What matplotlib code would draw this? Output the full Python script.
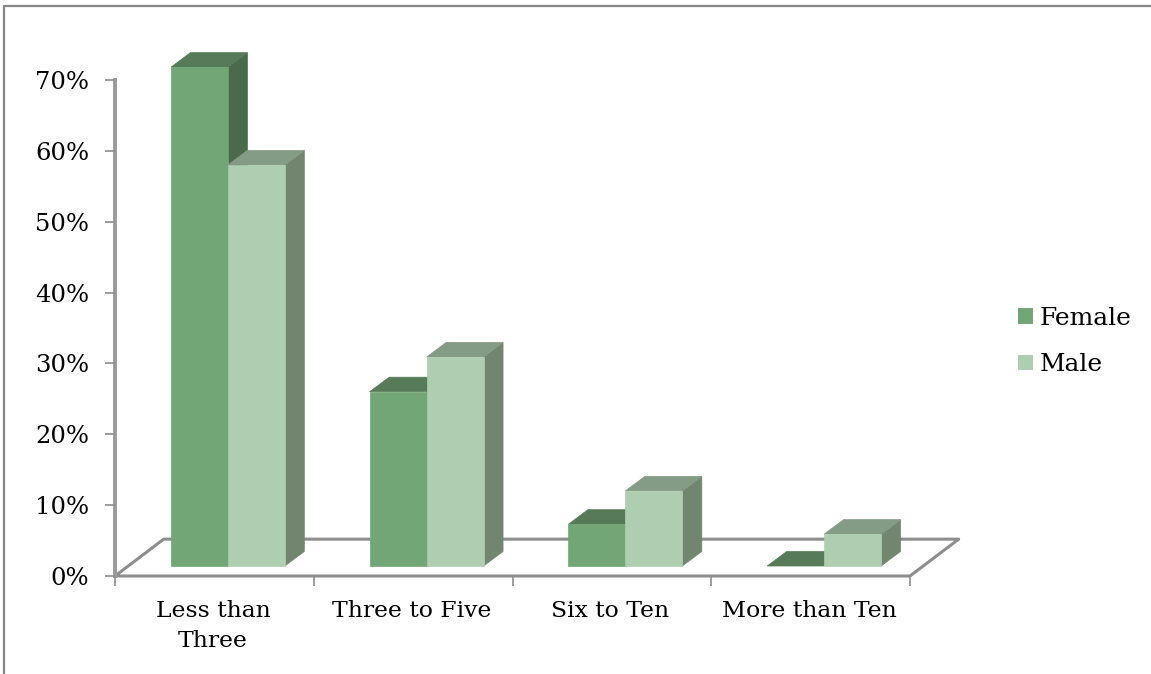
import matplotlib
matplotlib.use("Agg")
import matplotlib.pyplot as plt
from matplotlib.patches import Polygon, Patch
from matplotlib.lines import Line2D

categories = ["Less than\nThree", "Three to Five", "Six to Ten", "More than Ten"]
female = [70.4, 24.6, 5.9, 0.0]
male = [56.6, 29.5, 10.6, 4.5]
yticks = [0, 10, 20, 30, 40, 50, 60, 70]

FEMALE = dict(front="#72A676", top="#577B58", side="#4A6A4B")
MALE = dict(front="#AFCDB0", top="#849C85", side="#72866F")
AXIS = "#8E8E8E"

W, H = 1151, 674
plt.rcParams["font.family"] = ["DejaVu Serif"]

fig = plt.figure(figsize=(W / 100, H / 100), dpi=100)

# frame of the chart area, open on the right and at the bottom
fig.add_artist(Line2D([4 / W, 4 / W, 1], [0, 1 - 6 / H, 1 - 6 / H],
                      transform=fig.transFigure, color="#868686", lw=1.6))

ax = fig.add_axes([115 / W, 1 - 576 / H, 795 / W, 496 / H])
ax.set_xlim(0, 4)
ax.set_ylim(0, 70)
ax.patch.set_visible(False)
for s in ax.spines.values():
    s.set_visible(False)

# fake 3D offsets, in data units
floor_dx, floor_dy = 0.245, 5.2
bar_dx, bar_dy = 0.098, 2.05
base = 1.41
bar_w = 0.2865
start = 0.2815


def poly(points, color, z):
    ax.add_patch(Polygon(points, closed=True, facecolor=color, edgecolor=color,
                         lw=0.5, zorder=z, clip_on=False))


def draw_bar(x, value, colors, z):
    top = base + value
    x2 = x + bar_w
    if value > 0:
        poly([(x, base), (x2, base), (x2, top), (x, top)], colors["front"], z + 1)
        poly([(x2, base), (x2 + bar_dx, base + bar_dy),
              (x2 + bar_dx, top + bar_dy), (x2, top)], colors["side"], z)
    poly([(x, top), (x2, top), (x2 + bar_dx, top + bar_dy),
          (x + bar_dx, top + bar_dy)], colors["top"], z)


# floor outline and wall line
floor_kw = dict(color=AXIS, lw=2.2, clip_on=False, solid_capstyle="round", zorder=1)
ax.plot([0, floor_dx, 4 + floor_dx, 4, 0],
        [0, floor_dy, floor_dy, 0, 0], **floor_kw)
ax.plot([0, 0], [0, 70], color="#9A9A9A", lw=2.8, clip_on=False, zorder=1)

for i in range(len(categories)):
    draw_bar(i + start, female[i], FEMALE, 2 + i * 2)
    draw_bar(i + start + bar_w, male[i], MALE, 3 + i * 2)

ax.set_yticks(yticks)
ax.set_yticklabels([f"{v}%" for v in yticks], fontsize=17.5, color="black")
ax.set_xticks(range(5))
ax.set_xticklabels([])
ax.tick_params(axis="y", length=7, width=1.2, color=AXIS, pad=11.5)
ax.tick_params(axis="x", length=7, width=1.2, color=AXIS)

for i, name in enumerate(categories):
    ax.annotate(name, (i + 0.5, 0), xytext=(-1, -17), textcoords="offset points",
                ha="center", va="top", fontsize=16.9, linespacing=1.5,
                annotation_clip=False)

handles = [Patch(facecolor=FEMALE["front"], label="Female"),
           Patch(facecolor=MALE["front"], label="Male")]
fig.legend(handles=handles, loc="center left", bbox_to_anchor=(998.5 / W, 1 - 341.5 / H),
           frameon=False, fontsize=17.9, handlelength=0.6, handleheight=0.6,
           handletextpad=0.25, labelspacing=0.95, borderpad=0.3)

fig.savefig("out.png", dpi=100)
